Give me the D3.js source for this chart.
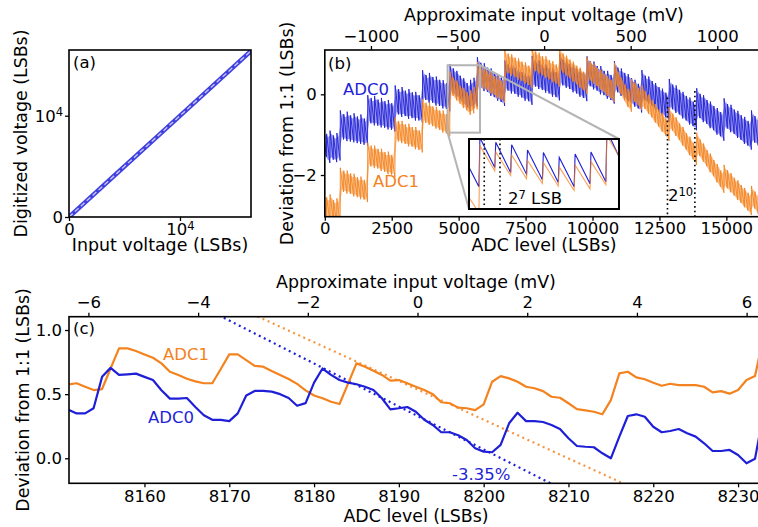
<!DOCTYPE html>
<html>
<head>
<meta charset="utf-8">
<script src="https://cdn.jsdelivr.net/npm/d3@7"></script>
<style>
  body { margin: 0; background: #fff; }
  svg { display: block; }
</style>
</head>
<body>
<svg id="chart" width="758" height="527"></svg>
<script>
// ---------- data ----------

// (a) transfer curve, input vs digitized (LSBs)
const aInput = [0, 4096, 8192, 12288, 16383];
const aDigitized = [0, 4096, 8192, 12288, 16383];

// (b) deviation from 1:1, one sawtooth tooth per 2^7 codes.
// tooth j runs from toothStart + 128*j to toothStart + 128*(j+1)
const toothStart = -64;
const toothWidth = 128;
// peak (start of tooth) and trough (end of tooth), grouped by 2^10 block
const adc0Peak = [
  [-0.92, -0.98, -0.90, -1.02, -0.96],
  [-0.40, -0.49, -0.43, -0.52, -0.47, -0.55, -0.50, -0.60],
  [-0.02, -0.09, -0.04, -0.13, -0.09, -0.17, -0.14, -0.22],
  [0.22, 0.13, 0.18, 0.09, 0.13, 0.05, 0.06, -0.02],
  [0.60, 0.48, 0.53, 0.43, 0.44, 0.36, 0.35, 0.28],
  [0.75, 0.64, 0.58, 0.46, 0.40, 0.28, 0.36, 0.41],
  [0.92, 0.78, 0.77, 0.66, 0.64, 0.55, 0.50, 0.42],
  [0.84, 0.74, 0.72, 0.66, 0.62, 0.55, 0.52, 0.46],
  [0.95, 0.83, 0.84, 0.73, 0.74, 0.64, 0.64, 0.55],
  [1.00, 0.86, 0.85, 0.75, 0.74, 0.64, 0.62, 0.54],
  [0.94, 0.82, 0.81, 0.70, 0.70, 0.58, 0.58, 0.48],
  [0.82, 0.66, 0.64, 0.53, 0.50, 0.40, 0.36, 0.26],
  [0.60, 0.46, 0.44, 0.33, 0.28, 0.18, 0.14, 0.04],
  [0.38, 0.24, 0.22, 0.11, 0.06, -0.04, -0.08, -0.18],
  [0.15, 0.01, -0.02, -0.14, -0.18, -0.29, -0.34, -0.44],
  [-0.10, -0.24, -0.26, -0.38, -0.41, -0.52, -0.56, -0.66],
  [-0.40, -0.54, -0.58, -0.72]
];
const adc0Trough = [
  [-1.55, -1.70, -1.62, -1.68, -1.64],
  [-1.12, -1.16, -1.17, -1.19, -1.21, -1.23, -1.25, -1.27],
  [-0.72, -0.77, -0.78, -0.82, -0.83, -0.87, -0.88, -0.92],
  [-0.50, -0.56, -0.54, -0.61, -0.59, -0.65, -0.65, -0.70],
  [-0.14, -0.21, -0.21, -0.28, -0.29, -0.35, -0.36, -0.42],
  [0.04, -0.08, -0.12, -0.25, -0.32, -0.42, -0.35, -0.30],
  [0.16, 0.08, 0.06, -0.04, -0.07, -0.16, -0.19, -0.29],
  [0.09, 0.02, 0.01, -0.06, -0.08, -0.16, -0.17, -0.26],
  [0.19, 0.13, 0.11, 0.04, 0.02, -0.06, -0.07, -0.15],
  [0.22, 0.16, 0.13, 0.05, 0.02, -0.06, -0.09, -0.17],
  [0.20, 0.12, 0.09, 0.00, -0.02, -0.11, -0.14, -0.23],
  [0.05, -0.04, -0.08, -0.18, -0.21, -0.31, -0.35, -0.45],
  [-0.15, -0.24, -0.28, -0.38, -0.43, -0.53, -0.57, -0.67],
  [-0.37, -0.46, -0.50, -0.60, -0.65, -0.75, -0.79, -0.89],
  [-0.59, -0.69, -0.73, -0.84, -0.89, -1.00, -1.04, -1.15],
  [-0.85, -0.94, -0.98, -1.08, -1.13, -1.23, -1.27, -1.37],
  [-1.20, -1.27, -1.32, -1.44]
];
const adc1Peak = [
  [-2.45, -2.55, -2.48, -2.62, -2.58],
  [-1.82, -1.89, -1.89, -1.96, -1.97, -2.05, -2.04, -2.12],
  [-1.20, -1.27, -1.27, -1.35, -1.35, -1.43, -1.42, -1.50],
  [-0.58, -0.66, -0.66, -0.74, -0.73, -0.81, -0.81, -0.89],
  [-0.12, -0.21, -0.21, -0.30, -0.31, -0.40, -0.40, -0.49],
  [0.56, 0.41, 0.34, 0.21, 0.16, 0.05, 0.10, 0.18],
  [0.80, 0.68, 0.67, 0.57, 0.55, 0.45, 0.44, 0.34],
  [1.10, 1.01, 0.99, 0.91, 0.89, 0.81, 0.79, 0.71],
  [1.15, 1.06, 1.03, 0.95, 0.94, 0.85, 0.82, 0.74],
  [1.14, 1.01, 0.96, 0.86, 0.81, 0.71, 0.66, 0.56],
  [0.92, 0.81, 0.76, 0.66, 0.61, 0.51, 0.46, 0.36],
  [0.78, 0.56, 0.41, 0.24, 0.13, 0.38, 0.29, 0.16],
  [0.22, 0.07, -0.01, -0.15, -0.24, -0.38, -0.46, -0.60],
  [-0.32, -0.48, -0.57, -0.72, -0.81, -0.96, -1.05, -1.20],
  [-0.95, -1.12, -1.22, -1.38, -1.47, -1.63, -1.73, -1.89],
  [-1.75, -1.88, -1.95, -2.07, -2.13, -2.25, -2.32, -2.44],
  [-2.27, -2.41, -2.49, -2.64]
];
const adc1Trough = [
  [-3.05, -3.12, -3.10, -3.22, -3.20],
  [-2.42, -2.46, -2.47, -2.53, -2.55, -2.60, -2.61, -2.67],
  [-1.79, -1.83, -1.84, -1.90, -1.92, -1.98, -1.99, -2.05],
  [-1.17, -1.21, -1.23, -1.29, -1.30, -1.36, -1.38, -1.44],
  [-0.71, -0.76, -0.79, -0.85, -0.88, -0.95, -0.97, -1.04],
  [-0.04, -0.15, -0.23, -0.34, -0.40, -0.51, -0.47, -0.37],
  [0.20, 0.13, 0.10, 0.02, -0.02, -0.10, -0.13, -0.21],
  [0.52, 0.46, 0.43, 0.36, 0.33, 0.26, 0.23, 0.16],
  [0.57, 0.51, 0.47, 0.40, 0.37, 0.30, 0.26, 0.19],
  [0.54, 0.46, 0.40, 0.31, 0.25, 0.16, 0.10, 0.01],
  [0.34, 0.26, 0.20, 0.11, 0.05, -0.04, -0.10, -0.19],
  [0.20, 0.01, -0.15, -0.31, -0.43, -0.19, -0.27, -0.39],
  [-0.36, -0.48, -0.57, -0.70, -0.80, -0.93, -1.02, -1.15],
  [-0.90, -1.03, -1.13, -1.27, -1.37, -1.51, -1.61, -1.75],
  [-1.53, -1.67, -1.78, -1.93, -2.03, -2.18, -2.29, -2.44],
  [-2.33, -2.43, -2.51, -2.62, -2.69, -2.80, -2.88, -2.99],
  [-2.83, -2.96, -3.05, -3.19]
];
// 2^10 markers (code, top of the dotted line) and inset 2^7 markers
const markLevels = [12800, 13824];
const markTops = [-0.08, 0.08];
const insetLevels = [4588, 5798];
const insetValues = [-0.95, 0.72];
const insetMarks = [4711, 4838];

// voltage conversion for the top axes
const mvPerLsb = 0.1546;
const zeroLevel = 8192.2;

// (c) fine scan, one value per ADC code
const cLevels = d3.range(8151, 8234);
const adc0Fine = [0.38, 0.35, 0.35, 0.39, 0.635, 0.705, 0.65, 0.655, 0.66, 0.635,
  0.61, 0.53, 0.465, 0.465, 0.47, 0.40, 0.335, 0.30, 0.30, 0.29,
  0.35, 0.49, 0.525, 0.525, 0.52, 0.50, 0.47, 0.41, 0.43, 0.59,
  0.70, 0.65, 0.61, 0.59, 0.577, 0.558, 0.532, 0.468, 0.382, 0.39,
  0.40, 0.363, 0.30, 0.26, 0.203, 0.203, 0.18, 0.143, 0.078, 0.052,
  0.047, 0.104, 0.273, 0.355, 0.29, 0.29, 0.283, 0.26, 0.228, 0.156,
  0.096, 0.09, 0.086, 0.039, 0.0, 0.169, 0.33, 0.343, 0.324, 0.246,
  0.203, 0.213, 0.228, 0.195, 0.169, 0.117, 0.057, 0.057, 0.065, 0.026,
  -0.039, -0.004, 0.35];
const adc1Fine = [0.575, 0.585, 0.558, 0.532, 0.54, 0.70, 0.857, 0.857, 0.836, 0.81,
  0.784, 0.74, 0.675, 0.65, 0.62, 0.60, 0.585, 0.585, 0.696, 0.81,
  0.81, 0.766, 0.72, 0.714, 0.68, 0.65, 0.618, 0.58, 0.53, 0.49,
  0.468, 0.441, 0.423, 0.58, 0.74, 0.714, 0.683, 0.65, 0.605, 0.61,
  0.585, 0.558, 0.532, 0.50, 0.437, 0.429, 0.395, 0.39, 0.376, 0.42,
  0.597, 0.641, 0.623, 0.597, 0.558, 0.546, 0.524, 0.48, 0.472, 0.429,
  0.384, 0.374, 0.363, 0.343, 0.454, 0.662, 0.675, 0.631, 0.616, 0.589,
  0.566, 0.581, 0.571, 0.571, 0.571, 0.558, 0.514, 0.524, 0.504, 0.532,
  0.61, 0.641, 0.95];
// linear fits drawn as dotted lines: slope per code and value at code 8190
const fitSlopes = [-0.0335, -0.0302];
const fitAt8190 = [0.404, 0.603];
const fitLabel = '-3.35%';

// ---------- drawing ----------
const FONT = '"DejaVu Sans", sans-serif';
const TICK = 16.5;
const blue = '#1f1fd8';
const orange = '#f4831f';
const svg = d3.select('#chart');
svg.append('rect').attr('width', 758).attr('height', 527).attr('fill', '#fff');

function styleAxis(g) {
  g.attr('font-family', FONT).attr('font-size', TICK);
  g.select('.domain').remove();
  g.selectAll('.tick line').attr('stroke', '#000').attr('stroke-width', 1.3);
  g.selectAll('.tick text').attr('fill', '#000');
}
function clip(id, x, y, w, h) {
  svg.append('clipPath').attr('id', id).append('rect')
    .attr('x', x).attr('y', y).attr('width', w).attr('height', h);
}
function frame(x, y, w, h, sw) {
  svg.append('rect').attr('x', x).attr('y', y).attr('width', w).attr('height', h)
    .attr('fill', 'none').attr('stroke', '#000').attr('stroke-width', sw || 1.6);
}
function label(text, x, y, opts) {
  opts = opts || {};
  const t = svg.append('text').attr('font-family', FONT)
    .attr('font-size', opts.size || 17.4)
    .attr('fill', opts.color || '#000')
    .attr('text-anchor', opts.anchor || 'middle')
    .text(text);
  if (opts.rotate) t.attr('transform', `translate(${x},${y}) rotate(-90)`);
  else t.attr('x', x).attr('y', y);
  return t;
}
function supLabel(base, sup, x, y, size) {
  const t = svg.append('text').attr('font-family', FONT).attr('font-size', size)
    .attr('x', x).attr('y', y).attr('fill', '#000');
  t.append('tspan').text(base);
  t.append('tspan').attr('dy', '-0.45em').attr('font-size', '0.7em').text(sup);
  return t;
}
function pow10(sel) {
  sel.selectAll('.tick text').each(function(d) {
    const t = d3.select(this);
    t.text('');
    if (d === 0) { t.text('0'); return; }
    t.append('tspan').text('10');
    t.append('tspan').attr('dy', '-0.45em').attr('font-size', '0.7em').text('4');
  });
}
const intFmt = d3.format('d');

// ----- panel (a) -----
const xA = d3.scaleLinear().domain([0, 16400]).range([69, 251]);
const yA = d3.scaleLinear().domain([0, 16490]).range([217, 50]);
clip('clipA', 69, 50, 182, 167);
const aPts = aInput.map((v, i) => [v, aDigitized[i]]);
const lineA = d3.line().x(d => xA(d[0])).y(d => yA(d[1]));
const gA = svg.append('g').attr('clip-path', 'url(#clipA)');
gA.append('path').attr('d', lineA(aPts)).attr('fill', 'none')
  .attr('stroke', '#4040e0').attr('stroke-width', 4.5);
gA.append('path').attr('d', lineA(aPts)).attr('fill', 'none')
  .attr('stroke', '#c4c4ee').attr('stroke-width', 1.4).attr('stroke-dasharray', '5,3');
svg.append('g').attr('transform', 'translate(0,217)')
  .call(d3.axisBottom(xA).tickValues([0, 10000]).tickSize(4).tickPadding(2))
  .call(styleAxis).call(pow10);
svg.append('g').attr('transform', 'translate(69,0)')
  .call(d3.axisLeft(yA).tickValues([0, 10000]).tickSize(4).tickPadding(2))
  .call(styleAxis).call(pow10);
frame(69, 50, 182, 167);
label('(a)', 73, 68, { size: 16.5, anchor: 'start' });
label('Input voltage (LSBs)', 160, 251);
label('Digitized voltage (LSBs)', 27, 133.5, { rotate: true });

// ----- panel (b) -----
const xB = d3.scaleLinear().domain([0, 16384]).range([324.8, 763.4]);
const yB = d3.scaleLinear().domain([-3.033, 1.098]).range([216.7, 50]);
const mvB = d3.scaleLinear()
  .domain([(0 - zeroLevel) * mvPerLsb, (16384 - zeroLevel) * mvPerLsb])
  .range([324.8, 763.4]);
clip('clipB', 324.8, 50, 440, 166.7);

function teeth(peaks, troughs) {
  const p = peaks.flat(), t = troughs.flat(), out = [];
  p.forEach((v, j) => {
    const s = toothStart + toothWidth * j;
    out.push([s + 4, v]);
    out.push([s + toothWidth - 4, t[j]]);
  });
  return out;
}
function band(peaks, troughs) {
  const p = peaks.flat(), t = troughs.flat();
  return p.map((v, j) => [toothStart + toothWidth * (j + 0.5), v, t[j]]);
}
const adc0Pts = teeth(adc0Peak, adc0Trough);
const adc1Pts = teeth(adc1Peak, adc1Trough);

const lineB = d3.line().x(d => xB(d[0])).y(d => yB(d[1]));
const areaB = d3.area().x(d => xB(d[0])).y0(d => yB(d[2] + 0.06)).y1(d => yB(d[1] - 0.08));
const gB = svg.append('g').attr('clip-path', 'url(#clipB)');
gB.append('path').attr('d', areaB(band(adc0Peak, adc0Trough)))
  .attr('fill', blue).attr('fill-opacity', 0.45);
gB.append('path').attr('d', lineB(adc0Pts)).attr('fill', 'none')
  .attr('stroke', blue).attr('stroke-width', 0.9);
gB.append('path').attr('d', areaB(band(adc1Peak, adc1Trough)))
  .attr('fill', orange).attr('fill-opacity', 0.5);
gB.append('path').attr('d', lineB(adc1Pts)).attr('fill', 'none')
  .attr('stroke', orange).attr('stroke-width', 0.9);

svg.append('g').attr('transform', 'translate(0,216.7)')
  .call(d3.axisBottom(xB).tickValues([0, 2500, 5000, 7500, 10000, 12500, 15000])
    .tickFormat(intFmt).tickSize(4).tickPadding(2))
  .call(styleAxis);
svg.append('g').attr('transform', 'translate(0,50)')
  .call(d3.axisTop(mvB).tickValues([-1000, -500, 0, 500, 1000]).tickFormat(intFmt)
    .tickSize(4).tickPadding(4))
  .call(styleAxis);
svg.append('g').attr('transform', 'translate(324.8,0)')
  .call(d3.axisLeft(yB).tickValues([-2, 0]).tickFormat(intFmt).tickSize(4).tickPadding(4))
  .call(styleAxis);
frame(324.8, 50, 440, 166.7);

// 2^10 markers
markLevels.forEach((m, i) => {
  svg.append('line').attr('x1', xB(m)).attr('x2', xB(m))
    .attr('y1', yB(markTops[i])).attr('y2', 216.7)
    .attr('stroke', '#000').attr('stroke-width', 1.6).attr('stroke-dasharray', '1.6,3');
});
supLabel('2', '10', 668, 201, 16.5);

// zoom box and connectors
const bx0 = xB(insetLevels[0]), bx1 = xB(insetLevels[1]);
const by0 = yB(insetValues[1]), by1 = yB(insetValues[0]);
const ix0 = 469, ix1 = 619, iy0 = 139, iy1 = 209;
svg.append('rect').attr('x', bx0).attr('y', by0).attr('width', bx1 - bx0).attr('height', by1 - by0)
  .attr('fill', 'none').attr('stroke', '#b4b4b4').attr('stroke-width', 2);
svg.append('line').attr('x1', bx1).attr('y1', by0).attr('x2', ix1).attr('y2', iy0)
  .attr('stroke', '#b4b4b4').attr('stroke-width', 2);
svg.append('line').attr('x1', bx0).attr('y1', by1).attr('x2', ix0).attr('y2', iy1)
  .attr('stroke', '#b4b4b4').attr('stroke-width', 2);

// inset
const xI = d3.scaleLinear().domain(insetLevels).range([ix0, ix1]);
const yI = d3.scaleLinear().domain(insetValues).range([iy1, iy0]);
svg.append('rect').attr('x', ix0).attr('y', iy0).attr('width', ix1 - ix0).attr('height', iy1 - iy0)
  .attr('fill', '#fff');
clip('clipI', ix0, iy0, ix1 - ix0, iy1 - iy0);
const lineI = d3.line().x(d => xI(d[0])).y(d => yI(d[1]));
const gI = svg.append('g').attr('clip-path', 'url(#clipI)');
gI.append('path').attr('d', lineI(adc0Pts)).attr('fill', 'none')
  .attr('stroke', blue).attr('stroke-width', 1.1);
gI.append('path').attr('d', lineI(adc1Pts)).attr('fill', 'none')
  .attr('stroke', orange).attr('stroke-width', 1.1).attr('stroke-opacity', 0.75);
insetMarks.forEach(m => {
  svg.append('line').attr('x1', xI(m)).attr('x2', xI(m)).attr('y1', iy0).attr('y2', iy1)
    .attr('stroke', '#000').attr('stroke-width', 1.6).attr('stroke-dasharray', '1.6,3');
});
frame(ix0, iy0, ix1 - ix0, iy1 - iy0, 2);
const t7 = supLabel('2', '7', 508, 204, 16.5);
t7.append('tspan').attr('dy', '0.315em').attr('font-size', 16.5).text(' LSB');

label('(b)', 328, 69, { size: 16.5, anchor: 'start' });
label('ADC0', 343, 95, { size: 16.5, anchor: 'start', color: blue });
label('ADC1', 373, 187, { size: 16.5, anchor: 'start', color: orange });
label('ADC level (LSBs)', 544, 251);
label('Approximate input voltage (mV)', 544, 21);
label('Deviation from 1:1 (LSBs)', 293, 133.5, { rotate: true });

// ----- panel (c) -----
const xC = d3.scaleLinear().domain([8151.1, 8233]).range([69, 763.5]);
const yC = d3.scaleLinear().domain([-0.195, 1.104]).range([483.3, 316.7]);
const mvC = d3.scaleLinear()
  .domain([(8151.1 - zeroLevel) * mvPerLsb, (8233 - zeroLevel) * mvPerLsb])
  .range([69, 763.5]);
clip('clipC', 69, 316.7, 695, 166.6);
const gC = svg.append('g').attr('clip-path', 'url(#clipC)');

// dotted fits
[[fitSlopes[0], fitAt8190[0], blue], [fitSlopes[1], fitAt8190[1], orange]].forEach(([s, b, col], i) => {
  const ends = xC.domain().map(x => [x, b + s * (x - 8190)]);
  gC.append('path').attr('d', d3.line().x(d => xC(d[0])).y(d => yC(d[1]))(ends))
    .attr('fill', 'none').attr('stroke', col).attr('stroke-width', 2.2)
    .attr('stroke-dasharray', '2,3.6').attr('stroke-opacity', i ? 0.85 : 1);
});

const lineC = d3.line().x(d => xC(d[0])).y(d => yC(d[1]));
gC.append('path').attr('d', lineC(cLevels.map((c, i) => [c, adc1Fine[i]])))
  .attr('fill', 'none').attr('stroke', orange).attr('stroke-width', 2.2).attr('stroke-linejoin', 'round');
gC.append('path').attr('d', lineC(cLevels.map((c, i) => [c, adc0Fine[i]])))
  .attr('fill', 'none').attr('stroke', blue).attr('stroke-width', 2.2).attr('stroke-linejoin', 'round');

svg.append('g').attr('transform', 'translate(0,483.3)')
  .call(d3.axisBottom(xC).tickValues(d3.range(8160, 8231, 10)).tickFormat(intFmt)
    .tickSize(4).tickPadding(3))
  .call(styleAxis);
svg.append('g').attr('transform', 'translate(0,316.7)')
  .call(d3.axisTop(mvC).tickValues([-6, -4, -2, 0, 2, 4, 6]).tickSize(4).tickPadding(4.7))
  .call(styleAxis);
svg.append('g').attr('transform', 'translate(69,0)')
  .call(d3.axisLeft(yC).tickValues([0, 0.5, 1]).tickFormat(d3.format('.1f')).tickSize(4).tickPadding(3))
  .call(styleAxis);
frame(69, 316.7, 695, 166.6);

label('(c)', 73, 334, { size: 16.5, anchor: 'start' });
label('ADC1', 163, 360, { size: 16.5, anchor: 'start', color: orange });
label('ADC0', 148, 423, { size: 16.5, anchor: 'start', color: blue });
label(fitLabel, 452, 480, { size: 16.5, anchor: 'start', color: blue });
label('ADC level (LSBs)', 416, 522);
label('Approximate input voltage (mV)', 416, 288);
label('Deviation from 1:1 (LSBs)', 29, 400, { rotate: true });
</script>
</body>
</html>
